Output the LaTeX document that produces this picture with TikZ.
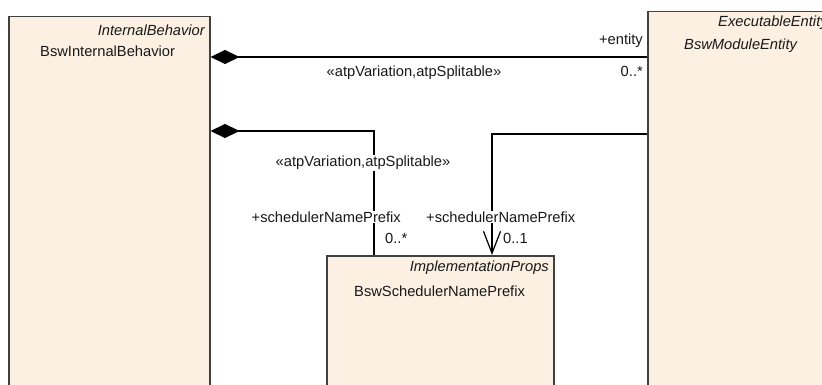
\documentclass[tikz,border=0pt]{standalone}
\usepackage{fontspec}
\setmainfont{Liberation Sans}
\usetikzlibrary{arrows.meta}
\definecolor{boxfill}{HTML}{FBF0E2}
\definecolor{boxline}{HTML}{404040}
\tikzset{
  box/.style={draw=boxline, fill=boxfill, line width=1.5pt, anchor=north west, inner sep=0pt},
  conn/.style={draw=black, line width=1.2pt},
  txt/.style={inner sep=0pt, font=\fontsize{14.7}{17}\selectfont, text=black!90},
  itxt/.style={txt, font=\fontsize{14.7}{17}\selectfont\itshape},
  lbl/.style={txt, fill=white, inner sep=1pt},
  comp/.style={{Diamond[length=29pt,width=14pt]}-},
  nav/.style={-{Straight Barb[length=22pt,width=17pt,line width=1.2pt]}}
}
\begin{document}
\begin{tikzpicture}[x=1pt,y=-1pt]
\useasboundingbox (0,0) rectangle (822,385);
\clip (0,0) rectangle (822,385);
\fill[white] (0,0) rectangle (822,385);
% boxes
\node[box, minimum width=201pt, minimum height=420pt] (ib) at (8,16) {};
\node[box, minimum width=220pt, minimum height=420pt] (me) at (647,11) {};
\node[box, minimum width=227pt, minimum height=200pt] (sp) at (326,255) {};
% box texts
\node[itxt, anchor=east] (ibst) at (205,30) {InternalBehavior};
\node[txt, anchor=west] (ibn) at (40,51) {BswInternalBehavior};
\node[itxt, anchor=west] (mest) at (718,23) {ExecutableEntity};
\node[itxt, anchor=west] (men) at (684,46) {BswModuleEntity};
\node[itxt, anchor=east] (spst) at (549,268) {ImplementationProps};
\node[txt, anchor=west] (spn) at (354,291) {BswSchedulerNamePrefix};
% connector 1
\draw[conn, comp] (ib.east |- 0,57) -- (me.west |- 0,57);
\node[txt, anchor=east] (l1a) at (643,41) {+entity};
\node[txt, anchor=east] (l1b) at (643,71) {0..*};
\node[txt] (l1c) at (414,73) {«atpVariation,atpSplitable»};
% connector 2
\coordinate (c2) at (374,131);
\draw[conn, comp] (ib.east |- c2) -- (c2) -- (c2 |- sp.north);
\node[lbl] (l2c) at (363,163) {«atpVariation,atpSplitable»};
\node[lbl, anchor=east] (l2a) at (402,217) {+schedulerNamePrefix};
\node[txt, anchor=west] (l2b) at (385,238) {0..*};
% connector 3
\coordinate (c3) at (492,134);
\draw[conn, nav] (me.west |- c3) -- (c3) -- (c3 |- sp.north);
\node[lbl, anchor=west] (l3a) at (425,217) {+schedulerNamePrefix};
\node[txt, anchor=west] (l3b) at (503,238) {0..1};
\end{tikzpicture}
\end{document}
